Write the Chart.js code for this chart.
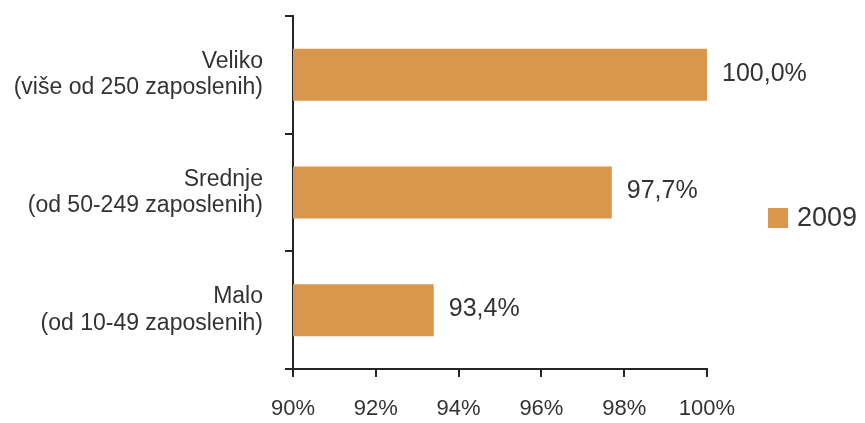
<!DOCTYPE html>
<html>
<head>
<meta charset="utf-8">
<script src="https://cdn.jsdelivr.net/npm/chart.js@4"></script>
<style>
  html, body { margin: 0; padding: 0; background: #fff; }
  #wrap { width: 865px; height: 423px; }
</style>
</head>
<body>
<div id="wrap"><canvas id="c"></canvas></div>
<script>
const categories = [
    ['Veliko', '(više od 250 zaposlenih)'],
    ['Srednje', '(od 50-249 zaposlenih)'],
    ['Malo', '(od 10-49 zaposlenih)']
];
const values2009 = [100.0, 97.7, 93.4];
const seriesName = '2009';
const xTicks = [90, 92, 94, 96, 98, 100];

const barColor = '#D9974E';
const textColor = '#333333';
const axisColor = '#252525';
const fontFamily = '"Liberation Sans", Arial, sans-serif';

// value labels to the right of each bar
const valueLabels = {
    id: 'value_labels',
    afterDatasetsDraw: (chart) => {
        const { ctx } = chart;
        const meta = chart.getDatasetMeta(0);
        ctx.save();
        ctx.font = '25px ' + fontFamily;
        ctx.fillStyle = textColor;
        ctx.textAlign = 'left';
        ctx.textBaseline = 'middle';
        meta.data.forEach((bar, i) => {
            const txt = values2009[i].toFixed(1).replace('.', ',') + '%';
            ctx.fillText(txt, bar.x + 15, bar.y - 1);
        });
        ctx.restore();
    }
};

// legend drawn by hand so it can sit away from the plot area
const sideLegend = {
    id: 'side_legend',
    afterDraw: (chart) => {
        const { ctx, chartArea } = chart;
        const ds = chart.data.datasets[0];
        const x = chartArea.right + 61;
        const y = 218;
        ctx.save();
        ctx.fillStyle = ds.backgroundColor;
        ctx.fillRect(x, y - 10, 20, 20);
        ctx.font = '27px ' + fontFamily;
        ctx.fillStyle = textColor;
        ctx.textAlign = 'left';
        ctx.textBaseline = 'middle';
        ctx.fillText(ds.label, x + 29, y + 1);
        ctx.restore();
    }
};

new Chart(document.getElementById('c'), {
    type: 'bar',
    data: {
        labels: categories,
        datasets: [{
            label: seriesName,
            data: values2009,
            backgroundColor: barColor,
            borderWidth: 0,
            categoryPercentage: 0.442,
            barPercentage: 1.0
        }]
    },
    options: {
        indexAxis: 'y',
        responsive: true,
        maintainAspectRatio: false,
        animation: false,
        layout: { padding: { top: 16, right: 158, left: 0, bottom: 0 } },
        plugins: {
            legend: { display: false },
            tooltip: { enabled: false }
        },
        scales: {
            x: {
                min: 90,
                max: 100,
                afterBuildTicks: (axis) => {
                    axis.ticks = xTicks.map(v => ({ value: v }));
                },
                afterFit: (axis) => { axis.height = 54; },
                border: { display: true, color: axisColor, width: 2 },
                grid: { drawOnChartArea: false, drawTicks: true, tickLength: 8, color: axisColor, lineWidth: 2 },
                ticks: {
                    padding: 19,
                    color: textColor,
                    font: { family: fontFamily, size: 22 },
                    callback: (v) => v + '%'
                }
            },
            y: {
                afterFit: (axis) => {
                    axis.width = 293;
                    // labels may overhang the plot, keep the top at the layout padding
                    axis.paddingTop = 0;
                    axis.paddingBottom = 0;
                },
                border: { display: true, color: axisColor, width: 2 },
                grid: { offset: true, drawOnChartArea: false, drawTicks: true, tickLength: 8, color: axisColor, lineWidth: 2 },
                ticks: {
                    padding: 22,
                    color: textColor,
                    font: { family: fontFamily, size: 23, lineHeight: 1.15 }
                }
            }
        }
    },
    plugins: [valueLabels, sideLegend]
});
</script>
</body>
</html>
